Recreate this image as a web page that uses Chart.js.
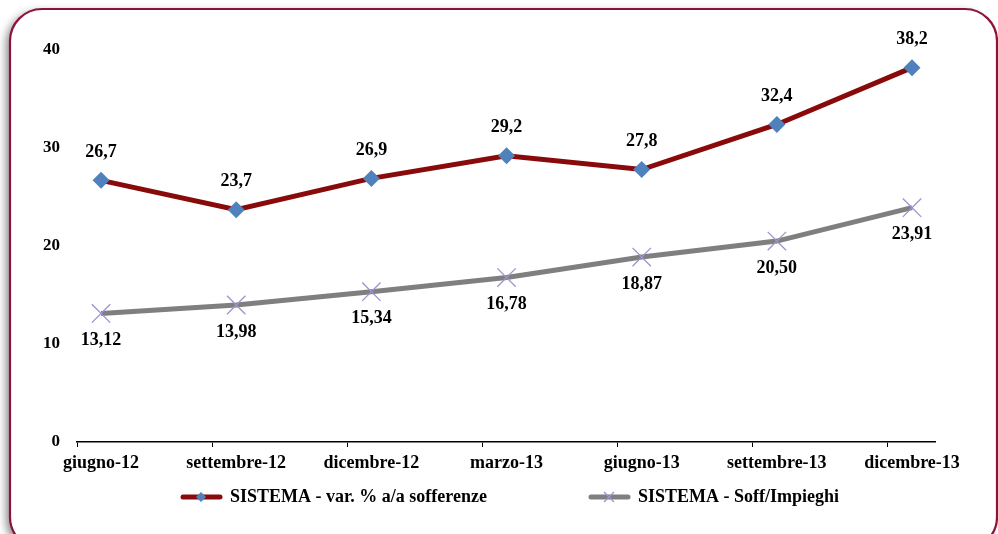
<!DOCTYPE html>
<html>
<head>
<meta charset="utf-8">
<script src="https://cdn.jsdelivr.net/npm/chart.js@4/dist/chart.umd.min.js"></script>
<style>
  body { margin: 0; background: #ffffff; }
  #wrap { width: 998px; height: 534px; }
</style>
</head>
<body>
<div id="wrap"><canvas id="lineChart" width="998" height="534"></canvas></div>
<script>
// chart data
var categories = ['giugno-12', 'settembre-12', 'dicembre-12', 'marzo-13', 'giugno-13', 'settembre-13', 'dicembre-13'];
var sofferenze = [26.7, 23.7, 26.9, 29.2, 27.8, 32.4, 38.2];
var soffImpieghi = [13.12, 13.98, 15.34, 16.78, 18.87, 20.50, 23.91];
var yTicks = [0, 10, 20, 30, 40];

var redLine = '#880a0a';
var grayLine = '#7f7f7f';
var diamondColor = '#4f81bd';
var crossColor = '#9d92cf';
var serif = '"Liberation Serif", "Times New Roman", serif';

// legend sample: line with marker in the middle
function legendSample(lineColor, marker) {
    var c = document.createElement('canvas');
    c.width = 48; c.height = 14;
    var g = c.getContext('2d');
    g.strokeStyle = lineColor;
    g.lineWidth = 5;
    g.lineCap = 'round';
    g.beginPath(); g.moveTo(6, 7); g.lineTo(43, 7); g.stroke();
    if (marker === 'diamond') {
        g.fillStyle = diamondColor;
        g.beginPath(); g.moveTo(24, 2); g.lineTo(29, 7); g.lineTo(24, 12); g.lineTo(19, 7); g.closePath(); g.fill();
    } else {
        g.strokeStyle = crossColor;
        g.lineWidth = 1.3;
        g.lineCap = 'butt';
        g.beginPath(); g.moveTo(19, 2); g.lineTo(29, 12); g.moveTo(29, 2); g.lineTo(19, 12); g.stroke();
    }
    return c;
}

function toPoints(values) {
    return values.map(function(v, i) { return { x: i, y: v }; });
}

// rounded frame with shadow behind the chart
var framePlugin = {
    id: 'frame',
    beforeDraw: function(chart) {
        var ctx = chart.ctx;
        var x = 10, y = 9, w = 987, h = 540, r = 32;
        ctx.save();
        ctx.shadowColor = 'rgba(0,0,0,0.45)';
        ctx.shadowBlur = 8;
        ctx.shadowOffsetX = -4;
        ctx.shadowOffsetY = 3;
        ctx.beginPath();
        ctx.moveTo(x + r, y);
        ctx.lineTo(x + w - r, y);
        ctx.arcTo(x + w, y, x + w, y + r, r);
        ctx.lineTo(x + w, y + h - r);
        ctx.arcTo(x + w, y + h, x + w - r, y + h, r);
        ctx.lineTo(x + r, y + h);
        ctx.arcTo(x, y + h, x, y + h - r, r);
        ctx.lineTo(x, y + r);
        ctx.arcTo(x, y, x + r, y, r);
        ctx.closePath();
        ctx.fillStyle = '#ffffff';
        ctx.fill();
        ctx.shadowColor = 'transparent';
        ctx.strokeStyle = '#8a1538';
        ctx.lineWidth = 2.2;
        ctx.stroke();
        ctx.restore();
    }
};

// move the legend row to where the reference has it
var legendPlacePlugin = {
    id: 'legendPlace',
    afterLayout: function(chart) {
        var lg = chart.legend;
        var pad = lg.options.labels.padding;
        lg.top = 488 - pad;
        lg.bottom = 520;
        lg.height = lg.bottom - lg.top;
        var shift = 510 - (lg.left + lg.right) / 2;
        lg.left += shift;
        lg.right += shift;
    }
};

// value labels: red series above, gray series below
var labelPlugin = {
    id: 'valueLabels',
    afterDatasetsDraw: function(chart) {
        var ctx = chart.ctx;
        ctx.save();
        ctx.font = 'bold 18px ' + serif;
        ctx.fillStyle = '#000000';
        ctx.textAlign = 'center';
        ctx.textBaseline = 'middle';
        chart.data.datasets.forEach(function(ds, di) {
            var meta = chart.getDatasetMeta(di);
            meta.data.forEach(function(pt, i) {
                var v = ds.data[i].y;
                var txt = v.toFixed(di === 0 ? 1 : 2).replace('.', ',');
                var dy = di === 0 ? -28 : 27;
                ctx.fillText(txt, pt.x, pt.y + dy);
            });
        });
        ctx.restore();
    }
};

var ctx = document.getElementById('lineChart').getContext('2d');
var myChart = new Chart(ctx, {
    type: 'line',
    data: {
        datasets: [{
            label: 'SISTEMA - var. % a/a sofferenze',
            data: toPoints(sofferenze),
            borderColor: redLine,
            borderWidth: 5,
            pointStyle: 'rectRot',
            pointRadius: 8.5,
            pointBackgroundColor: diamondColor,
            pointBorderColor: diamondColor,
            pointBorderWidth: 0,
            legendSample: legendSample(redLine, 'diamond')
        }, {
            label: 'SISTEMA - Soff/Impieghi',
            data: toPoints(soffImpieghi),
            borderColor: grayLine,
            borderWidth: 5,
            pointStyle: 'crossRot',
            pointRadius: 13,
            pointBorderColor: crossColor,
            pointBorderWidth: 1.3,
            legendSample: legendSample(grayLine, 'cross')
        }]
    },
    options: {
        responsive: false,
        animation: false,
        clip: false,
        layout: { padding: { top: 50, right: 63, left: 0, bottom: 22 } },
        scales: {
            x: {
                type: 'linear',
                min: -0.178,
                max: 6.17,
                afterBuildTicks: function(scale) {
                    scale.ticks = categories.map(function(c, i) { return { value: i - 0.178 }; });
                },
                afterFit: function(scale) { scale.height = 40; },
                grid: { drawOnChartArea: false, drawTicks: true, tickLength: 5, color: '#000000' },
                border: { display: true, color: '#000000', width: 1.5 },
                ticks: {
                    autoSkip: false,
                    maxRotation: 0,
                    labelOffset: 24,
                    padding: 6,
                    color: '#000000',
                    font: { family: serif, size: 18, weight: 'bold' },
                    callback: function(value, index) { return categories[index]; }
                }
            },
            y: {
                min: 0,
                max: 40,
                afterBuildTicks: function(scale) {
                    scale.ticks = yTicks.map(function(v) { return { value: v }; });
                },
                afterFit: function(scale) { scale.width = 77; },
                grid: { display: false, drawTicks: false },
                border: { display: false },
                ticks: {
                    padding: 17,
                    color: '#000000',
                    font: { family: serif, size: 17, weight: 'bold' }
                }
            }
        },
        plugins: {
            tooltip: { enabled: false },
            legend: {
                position: 'bottom',
                maxHeight: 30,
                labels: {
                    usePointStyle: true,
                    pointStyleWidth: 40,
                    boxHeight: 14,
                    padding: 102,
                    color: '#000000',
                    font: { family: serif, size: 18, weight: 'bold' },
                    generateLabels: function(chart) {
                        return chart.data.datasets.map(function(ds, i) {
                            return {
                                text: ds.label,
                                pointStyle: ds.legendSample,
                                fillStyle: 'transparent',
                                strokeStyle: 'transparent',
                                lineWidth: 0,
                                hidden: false,
                                datasetIndex: i,
                                fontColor: '#000000'
                            };
                        });
                    }
                }
            }
        }
    },
    plugins: [framePlugin, legendPlacePlugin, labelPlugin]
});
</script>
</body>
</html>
